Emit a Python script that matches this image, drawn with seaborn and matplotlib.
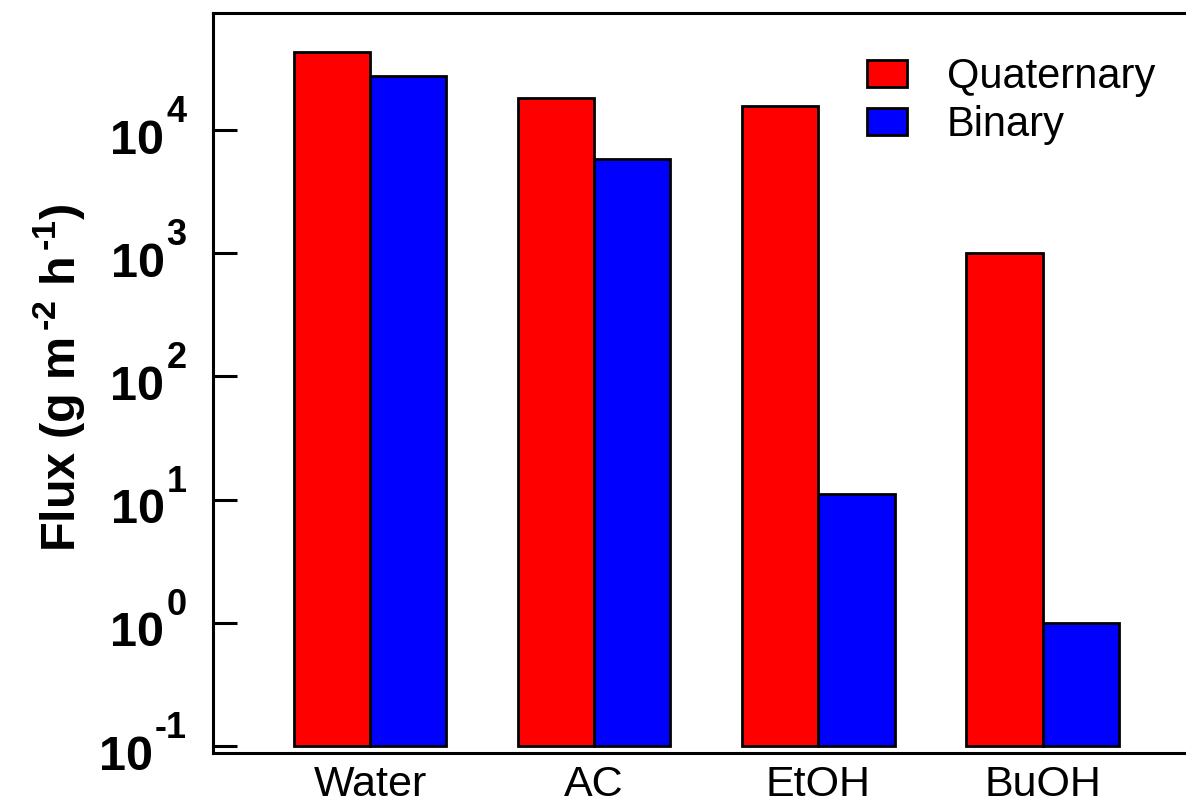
import pandas as pd
import matplotlib
matplotlib.use("Agg")
import matplotlib.pyplot as plt
import seaborn as sns

# данные
solvents = ["Water", "AC", "EtOH", "BuOH"]
quaternary = [43000, 18200, 15700, 1000]
binary = [27500, 5800, 11, 1.0]
series_names = ["Quaternary", "Binary"]
series_colors = ["#ff0000", "#0000ff"]
y_ticks = [0.1, 1, 10, 100, 1000, 10000]
y_exponents = ["-1", "0", "1", "2", "3", "4"]
bar_base = 0.1

df = pd.DataFrame({
    "solvent": solvents * 2,
    "flux": quaternary + binary,
    "series": [series_names[0]] * 4 + [series_names[1]] * 4,
})

sns.set_style("white")
plt.rcParams["font.family"] = ["Liberation Sans", "DejaVu Sans"]
plt.rcParams["mathtext.fontset"] = "custom"
plt.rcParams["mathtext.rm"] = "Liberation Sans"
plt.rcParams["mathtext.bf"] = "Liberation Sans:bold"
plt.rcParams["mathtext.it"] = "Liberation Sans:italic"
for key in ["text.color", "axes.labelcolor", "xtick.color", "ytick.color"]:
    plt.rcParams[key] = "black"

fig = plt.figure(figsize=(11.86, 8.05), dpi=100)
ax = fig.add_axes([0.1796, 0.0646, 0.8204, 0.9193])
ax.set_yscale("log")

sns.barplot(data=df, x="solvent", y="flux", hue="series", order=solvents,
            hue_order=series_names, palette=series_colors, width=0.68,
            edgecolor="black", linewidth=2, saturation=1, ax=ax)

# столбики начинаются от 10^-1, а не от нижнего края оси
for container in ax.containers:
    for patch, val in zip(container, container.datavalues):
        patch.set_y(bar_base)
        patch.set_height(val - bar_base)

ax.set_ylim(0.0877, 89000)
ax.set_xlim(-0.70, 3.64)
ax.set_yticks(y_ticks)
ax.set_yticklabels([])
ax.yaxis.set_minor_locator(matplotlib.ticker.NullLocator())
ax.tick_params(axis="y", direction="in", length=17, width=2.2, left=True)
ax.tick_params(axis="x", length=0, pad=9, labelsize=31)

# подписи вида 10^n: показатель выше и правее "10"
renderer = fig.canvas.get_renderer()
for val, exp in zip(y_ticks, y_exponents):
    t_exp = ax.annotate(exp, xy=(0, val), xycoords=("axes fraction", "data"),
                        xytext=(-19, 0), textcoords="offset points",
                        ha="right", va="bottom", fontsize=26, fontweight="bold")
    w = t_exp.get_window_extent(renderer).width * 72 / fig.dpi
    ax.annotate("10", xy=(0, val), xycoords=("axes fraction", "data"),
                xytext=(-19 - w - 1.5, -8), textcoords="offset points",
                ha="right", va="center", fontsize=35, fontweight="bold")

ax.set_xlabel("")
ax.set_ylabel("$\\mathbf{Flux\\ (g\\ m^{\\,\u20102}\\ h^{\\,\u20101})}$",
              fontsize=35)
ax.yaxis.set_label_coords(-0.13, 0.507)

for side in ["left", "top", "bottom"]:
    ax.spines[side].set_linewidth(2.2)
    ax.spines[side].set_color("black")
ax.spines["right"].set_visible(False)

ax.legend(loc="upper left", bbox_to_anchor=(0.731, 0.929),
          bbox_transform=fig.transFigure, frameon=False, fontsize=30,
          handlelength=0.96, handleheight=0.62, handletextpad=0.96,
          labelspacing=0.2, borderpad=0, borderaxespad=0)

fig.savefig("out.png", dpi=100)
print("saved out.png")
